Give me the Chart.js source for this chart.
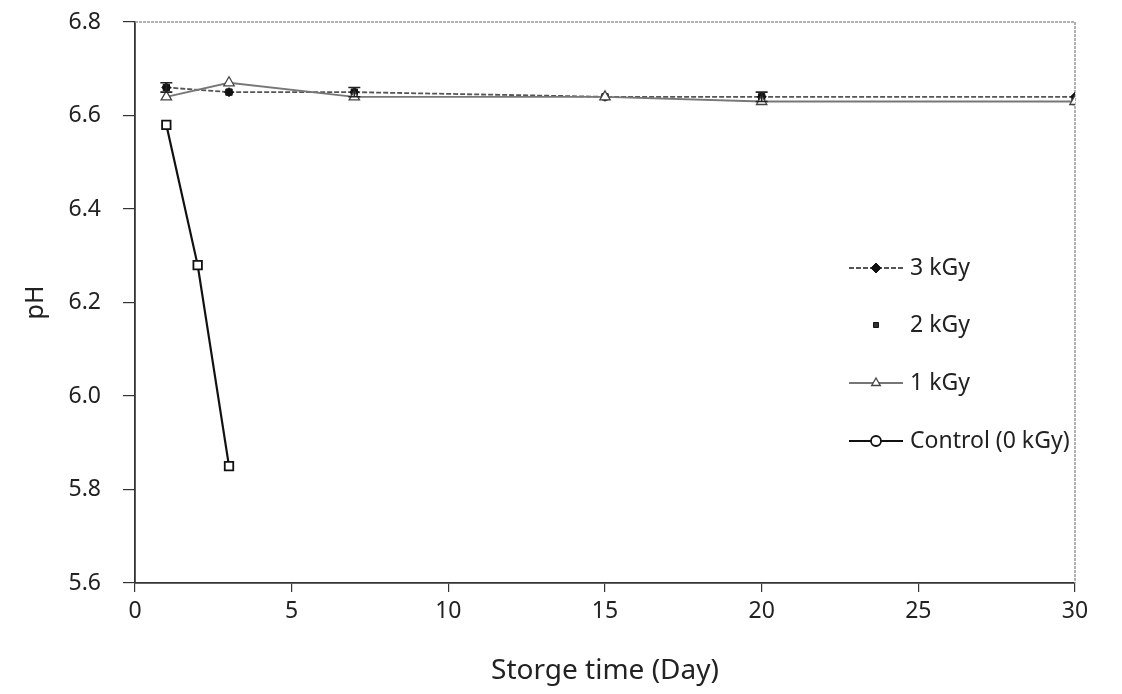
<!DOCTYPE html>
<html><head><meta charset="utf-8">
<script src="https://cdn.jsdelivr.net/npm/chart.js@4.4.1/dist/chart.umd.min.js"></script>
<style>html,body{margin:0;padding:0;background:#fff}canvas{display:block}</style>
</head><body>
<canvas id="c" width="1122" height="694"></canvas>
<script>
// ---- data ----
const days = [1, 3, 7, 15, 20, 30];
const controlDays = [1, 2, 3];
const yTicks = [5.6, 5.8, 6.0, 6.2, 6.4, 6.6, 6.8];
const xTicks = [0, 5, 10, 15, 20, 25, 30];
const ph3kGy = [6.66, 6.65, 6.65, 6.64, 6.64, 6.64];
const ph2kGy = [6.66, 6.65, 6.65, 6.64, 6.64, 6.63];
const err2kGy = [0.01, 0, 0.01, 0, 0.01, 0];
const ph1kGy = [6.64, 6.67, 6.64, 6.64, 6.63, 6.63];
const phControl = [6.58, 6.28, 5.85];
const labels = ['3 kGy', '2 kGy', '1 kGy', 'Control (0 kGy)'];

const FONT = '"Noto Sans", "Open Sans", sans-serif';
const toXY = (xs, ys) => xs.map((x, i) => ({x: x, y: ys[i]}));

const datasets = [
  {label: labels[0], data: toXY(days, ph3kGy), showLine: true, borderColor: '#555', borderWidth: 1.8, borderDash: [5, 2],
   pointStyle: 'rectRot', pointRadius: 4.5, pointBackgroundColor: '#111', pointBorderColor: '#111', pointBorderWidth: 1, legendStyle: 'rectRot', legendLine: true, order: 2},
  {label: labels[1], data: toXY(days, ph2kGy), showLine: false, borderColor: '#222',
   pointStyle: 'rect', pointRadius: 4.5, pointBackgroundColor: '#333', pointBorderColor: '#111', pointBorderWidth: 1, errors: err2kGy, legendStyle: 'rect', legendLine: false, order: 3},
  {label: labels[2], data: toXY(days, ph1kGy), showLine: true, borderColor: '#777', borderWidth: 1.8,
   pointStyle: 'triangle', pointRadius: 6, pointBackgroundColor: '#fff', pointBorderColor: '#444', pointBorderWidth: 1.3, legendStyle: 'triangle', legendLine: true, order: 1},
  {label: labels[3], data: toXY(controlDays, phControl), showLine: true, borderColor: '#111', borderWidth: 2.2,
   pointStyle: 'rect', pointRadius: 6, pointBackgroundColor: '#fff', pointBorderColor: '#111', pointBorderWidth: 1.8, legendStyle: 'circle', legendLine: true, order: 0}
];

const framePlugin = {
  id: 'frame',
  beforeDatasetsDraw(chart) {
    const {ctx, chartArea: a} = chart;
    ctx.save();
    ctx.strokeStyle = '#999';
    ctx.lineWidth = 1.5;
    ctx.setLineDash([3, 1]);
    ctx.beginPath();
    ctx.moveTo(a.left, a.top); ctx.lineTo(a.right, a.top); ctx.lineTo(a.right, a.bottom);
    ctx.stroke();
    ctx.restore();
  },
  afterDatasetsDraw(chart) {
    const {ctx} = chart;
    const xs = chart.scales.x, ys = chart.scales.y;
    ctx.save();
    ctx.strokeStyle = '#222'; ctx.lineWidth = 1.6;
    chart.data.datasets.forEach(ds => {
      if (!ds.errors) return;
      ds.data.forEach((p, i) => {
        const e = ds.errors[i]; if (!e) return;
        const px = xs.getPixelForValue(p.x);
        const y1 = ys.getPixelForValue(p.y + e), y0 = ys.getPixelForValue(p.y - e);
        ctx.beginPath();
        ctx.moveTo(px, y0); ctx.lineTo(px, y1);
        ctx.moveTo(px - 6, y1); ctx.lineTo(px + 6, y1);
        ctx.moveTo(px - 6, y0); ctx.lineTo(px + 6, y0);
        ctx.stroke();
      });
    });
    ctx.restore();
  },
  afterDraw(chart) {
    const {ctx} = chart;
    const rows = [268, 325, 383, 441];
    const lx0 = 849, lx1 = 903, mx = 876, tx = 910;
    ctx.save();
    chart.data.datasets.forEach((ds, i) => {
      const y = rows[i];
      if (ds.legendLine) {
        ctx.save();
        ctx.strokeStyle = ds.borderColor; ctx.lineWidth = ds.borderWidth;
        ctx.setLineDash(ds.borderDash || []);
        ctx.beginPath(); ctx.moveTo(lx0, y); ctx.lineTo(lx1, y); ctx.stroke();
        ctx.restore();
      }
      ctx.save();
      ctx.fillStyle = ds.pointBackgroundColor; ctx.strokeStyle = ds.pointBorderColor;
      ctx.lineWidth = ds.pointBorderWidth;
      Chart.helpers.drawPoint(ctx, {pointStyle: ds.legendStyle, radius: ds.legendStyle === 'rect' ? 3.5 : 5, borderWidth: ds.pointBorderWidth, rotation: 0}, mx, y);
      ctx.restore();
      ctx.fillStyle = '#222';
      ctx.font = '23px ' + FONT;
      ctx.textBaseline = 'middle'; ctx.textAlign = 'left';
      ctx.fillText(ds.label, tx, y);
    });
    ctx.restore();
  }
};

new Chart(document.getElementById('c'), {
  type: 'scatter',
  data: {datasets: datasets},
  options: {
    responsive: false,
    animation: false,
    layout: {padding: {left: 0, right: 47, top: 22, bottom: 0}},
    plugins: {legend: {display: false}, tooltip: {enabled: false}},
    elements: {line: {tension: 0}},
    scales: {
      x: {
        type: 'linear', min: 0, max: 30,
        afterFit(s) { s.height = 111; s.paddingLeft = 0; s.paddingRight = 0; },
        afterBuildTicks(s) { s.ticks = xTicks.map(v => ({value: v})); },
        ticks: {color: '#222', font: {family: FONT, size: 23}, padding: 6},
        grid: {drawOnChartArea: false, tickLength: 9, color: '#333', lineWidth: 1.2},
        border: {color: '#333', width: 1.8},
        title: {display: true, text: 'Storge time (Day)', color: '#222', font: {family: FONT, size: 28}, padding: {top: 0, bottom: 6}}
      },
      y: {
        min: 5.6, max: 6.8,
        afterFit(s) { s.width = 135; s.paddingTop = 0; s.paddingBottom = 0; },
        afterBuildTicks(s) { s.ticks = yTicks.map(v => ({value: v})); },
        ticks: {color: '#222', font: {family: FONT, size: 23}, padding: 22, callback: v => Number(v).toFixed(1)},
        grid: {drawOnChartArea: false, tickLength: 12, color: '#333', lineWidth: 1.2},
        border: {color: '#333', width: 1.8},
        title: {display: true, text: 'pH', color: '#222', font: {family: FONT, size: 25}, padding: {top: 21, bottom: 0}}
      }
    }
  },
  plugins: [framePlugin]
});
</script>
</body></html>
